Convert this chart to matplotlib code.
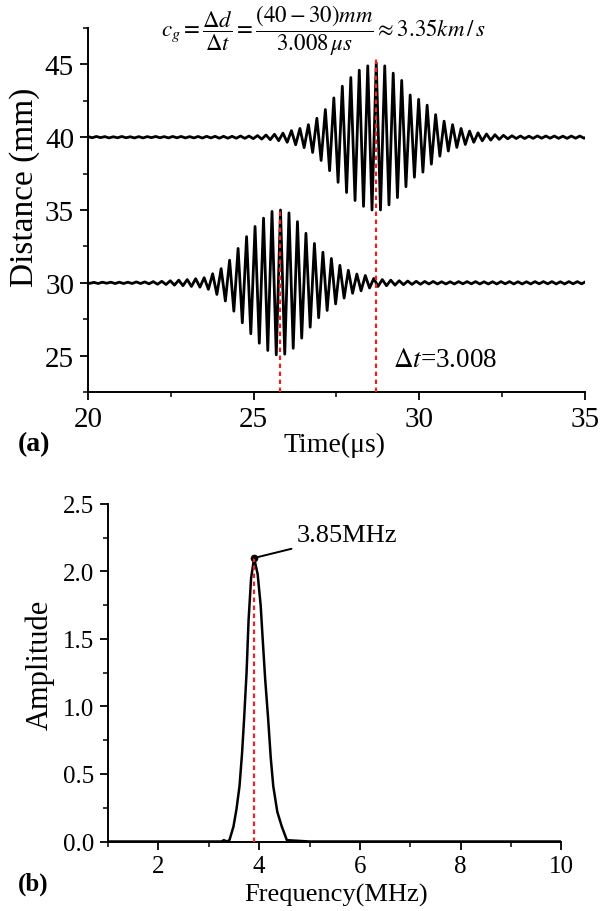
"""Group velocity from two guided-wave packets and the spectrum of the excitation."""

import matplotlib
matplotlib.use("Agg")
import matplotlib.pyplot as plt
from matplotlib.ticker import MultipleLocator
import numpy as np

plt.rcParams["font.family"] = ["Liberation Serif", "DejaVu Serif"]
plt.rcParams["mathtext.fontset"] = "stix"

# (a) waveforms: each trace is a list of half-cycle peak amplitudes (mm),
# read from the picture, alternating up/down around the baseline.
HALF_PERIOD_US = 0.128

wave1_baseline = 40.0
wave1_center = 28.70
wave1_k_first = -69
wave1_left = [0.03, 0.05, 0.04, 0.05, 0.03, 0.04, 0.05, 0.03, 0.04, 0.05,
              0.04, 0.03, 0.05, 0.04, 0.05, 0.04, 0.03, 0.05, 0.04, 0.04,
              0.05, 0.05, 0.04, 0.05, 0.05, 0.04, 0.05, 0.05, 0.06, 0.06,
              0.05, 0.06, 0.07, 0.06, 0.07, 0.06, 0.07, 0.08, 0.08]
wave1_packet = [0.08, 0.10, 0.11, 0.13, 0.15, 0.17, 0.20, 0.24, 0.28, 0.35,
                0.45, 0.52, 0.60, 0.72, 0.86, 1.05, 1.30, 1.60, 1.90, 2.30,
                2.70, 3.10, 3.50, 3.80, 4.10, 4.35, 4.60, 4.75, 4.90, 5.00,
                5.10,
                5.00, 4.90, 4.65, 4.40, 4.15, 3.90, 3.40, 2.90, 2.75, 2.60,
                2.40, 2.20, 1.85, 1.55, 1.30, 1.10, 0.95, 0.86, 0.70, 0.60,
                0.50, 0.42, 0.35, 0.30, 0.25, 0.22, 0.20, 0.17, 0.15, 0.13]
wave1_right = [0.11, 0.10, 0.09, 0.08, 0.09, 0.07, 0.08, 0.09, 0.07, 0.08,
               0.07, 0.08, 0.08, 0.07, 0.08, 0.08, 0.07, 0.08, 0.07, 0.08]

wave2_baseline = 30.0
wave2_center = 25.81
wave2_k_first = -46
wave2_left = [0.03, 0.04, 0.03, 0.05, 0.04, 0.03, 0.04, 0.05,
              0.04, 0.05, 0.04, 0.05, 0.06, 0.05, 0.06, 0.07]
wave2_packet = [0.08, 0.10, 0.10, 0.12, 0.14, 0.16, 0.18, 0.20, 0.22, 0.25,
                0.28, 0.30, 0.35, 0.45, 0.62, 0.80, 0.97, 1.25, 1.55, 1.95,
                2.36, 2.75, 3.17, 3.50, 3.87, 4.15, 4.44, 4.65, 4.90, 4.95,
                5.00,
                4.90, 4.80, 4.50, 4.20, 3.80, 3.40, 3.05, 2.70, 2.40, 2.10,
                1.90, 1.67, 1.45, 1.20, 1.05, 0.86, 0.72, 0.60, 0.55, 0.50,
                0.36, 0.30, 0.25, 0.22, 0.20, 0.18, 0.16, 0.14, 0.13, 0.12]
wave2_right = [0.11, 0.10, 0.10, 0.09, 0.08, 0.09, 0.08, 0.07, 0.08, 0.07,
               0.08, 0.08, 0.07, 0.08, 0.07, 0.08, 0.08, 0.07, 0.08, 0.07,
               0.08, 0.08, 0.07, 0.08, 0.08, 0.07, 0.08, 0.07, 0.08, 0.08,
               0.07, 0.08, 0.07, 0.08, 0.08, 0.07, 0.08, 0.08, 0.07, 0.08,
               0.07, 0.08, 0.08]

arrival_times = [wave2_center, wave1_center]
arrival_tops = [35.0, 45.5]

# (b) amplitude spectrum
spec_freq = [1.0, 2.0, 3.0, 3.25, 3.30, 3.36, 3.41, 3.49, 3.55, 3.61, 3.66,
             3.70, 3.75, 3.79, 3.84, 3.90, 3.97, 4.03, 4.07, 4.12, 4.18,
             4.23, 4.28, 4.36, 4.45, 4.55, 5.0, 6.0, 7.0, 8.0, 9.0, 10.0]
spec_amp = [0.0, 0.0, 0.0, 0.0, 0.01, 0.0, 0.01, 0.11, 0.24, 0.41, 0.65,
            0.90, 1.25, 1.64, 1.95, 2.10, 1.98, 1.75, 1.50, 1.20, 0.90,
            0.62, 0.41, 0.22, 0.11, 0.01, 0.0, 0.0, 0.0, 0.0, 0.0, 0.0]
peak_freq = 3.90
peak_amp = 2.10

RED = "#ee2222"


def build_trace(baseline, center, k_first, amps):
    k = np.arange(len(amps)) + k_first
    t = center + k * HALF_PERIOD_US
    sign = np.where(k % 2 == 0, 1.0, -1.0)
    return t, baseline + sign * np.asarray(amps)


def style_axes(ax, tick_size):
    for side in ("top", "right"):
        ax.spines[side].set_visible(False)
    for side in ("left", "bottom"):
        ax.spines[side].set_linewidth(1.4)
    ax.tick_params(which="major", direction="out", length=6, width=1.3, labelsize=tick_size, pad=4)
    ax.tick_params(which="minor", direction="out", length=3.5, width=1.1)


def place_labels(ax, xpos, ypos):
    ax.xaxis.set_label_coords(*xpos)
    ax.yaxis.set_label_coords(*ypos)
    ax.xaxis.label.set_verticalalignment("center")
    ax.yaxis.label.set_verticalalignment("center")


def plot_waves(fig):
    ax = fig.add_axes([0.1457, 0.5691, 0.8228, 0.3991])
    t1, y1 = build_trace(wave1_baseline, wave1_center, wave1_k_first, wave1_left + wave1_packet + wave1_right)
    t2, y2 = build_trace(wave2_baseline, wave2_center, wave2_k_first, wave2_left + wave2_packet + wave2_right)
    ax.plot(t1, y1, color="black", linewidth=2.0)
    ax.plot(t2, y2, color="black", linewidth=2.0)
    for t, top in zip(arrival_times, arrival_tops):
        ax.plot([t, t], [22.5, top], color=RED, linewidth=1.6, linestyle=(0, (2, 1.6)), zorder=3)

    ax.set_xlim(20, 35)
    ax.set_ylim(22.5, 47.5)
    ax.xaxis.set_major_locator(MultipleLocator(5))
    ax.xaxis.set_minor_locator(MultipleLocator(2.5))
    ax.yaxis.set_major_locator(MultipleLocator(5))
    ax.yaxis.set_minor_locator(MultipleLocator(2.5))
    style_axes(ax, 21)
    ax.set_xlabel("Time(μs)", fontsize=20)
    ax.set_ylabel("Distance (mm)", fontsize=24)
    place_labels(ax, (0.495, -0.143), (-0.128, 0.566))

    ax.text(29.2, 24.7, r"$\Delta t$=3.008", fontsize=19.5, ha="left", va="center")
    fig.text(0.536, 0.966,
             r"$c_g=\dfrac{\Delta d}{\Delta t}=\dfrac{(40-30)mm}{3.008\,\mu s}\approx 3.35km\,/\,s$",
             fontsize=16.5, ha="center", va="center")
    fig.text(0.03, 0.512, "(a)", fontsize=20, fontweight="bold", ha="left", va="center")


def plot_spectrum(fig):
    ax = fig.add_axes([0.1788, 0.0762, 0.7508, 0.3701])
    ax.plot(spec_freq, spec_amp, color="black", linewidth=1.8)
    ax.plot([peak_freq, peak_freq], [0, peak_amp], color=RED, linewidth=1.6, linestyle=(0, (2, 1.6)), zorder=3)
    ax.plot([peak_freq], [peak_amp], "o", color="black", markersize=4.5)
    ax.annotate("3.85MHz", xy=(peak_freq, peak_amp), xytext=(4.75, 2.27),
                fontsize=19, ha="left", va="center",
                arrowprops=dict(arrowstyle="-", color="black", linewidth=1.4, shrinkA=2, shrinkB=0))

    ax.set_xlim(1, 10)
    ax.set_ylim(0, 2.5)
    ax.xaxis.set_major_locator(MultipleLocator(2))
    ax.xaxis.set_minor_locator(MultipleLocator(1))
    ax.yaxis.set_major_locator(MultipleLocator(0.5))
    ax.yaxis.set_minor_locator(MultipleLocator(0.25))
    ax.yaxis.set_major_formatter(plt.FormatStrFormatter("%.1f"))
    style_axes(ax, 18)
    ax.set_xlabel("Frequency(MHz)", fontsize=19)
    ax.set_ylabel("Amplitude", fontsize=22)
    place_labels(ax, (0.503, -0.156), (-0.150, 0.526))
    fig.text(0.03, 0.03, "(b)", fontsize=18, fontweight="bold", ha="left", va="center")


def main() -> None:
    fig = plt.figure(figsize=(6.04, 9.12), dpi=100)
    plot_waves(fig)
    plot_spectrum(fig)
    fig.savefig("out.png", dpi=100)
    plt.close(fig)


if __name__ == "__main__":
    main()
